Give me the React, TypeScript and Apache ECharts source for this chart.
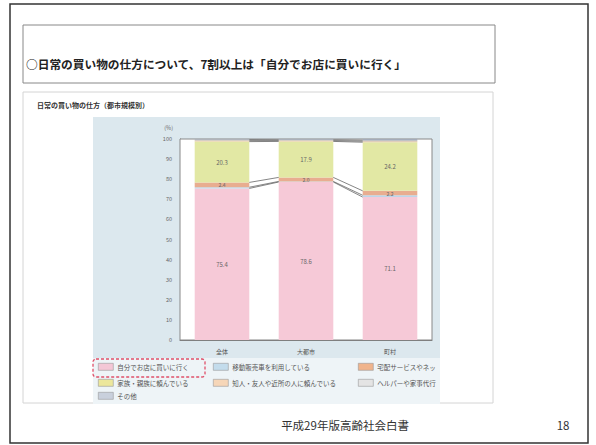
import React, { useEffect, useRef } from "react";
import * as echarts from "echarts";

const categories = ["全体", "大都市", "町村"];
const seriesNames = [
  "自分でお店に買いに行く",
  "移動販売車を利用している",
  "宅配サービスやネット販売を利用",
  "家族・親族に頼んでいる",
  "知人・友人や近所の人に頼んでいる",
  "ヘルパーや家事代行に頼んでいる",
  "その他",
];
const selfStore = [75.4, 78.6, 71.1];
const mobileSales = [0.6, 0.3, 0.9];
const delivery = [2.4, 2.0, 2.2];
const family = [20.3, 17.9, 24.2];
const friends = [0.5, 0.4, 0.5];
const helper = [0.5, 0.4, 0.5];
const other = [0.3, 0.4, 0.6];
const yTicks = [0, 10, 20, 30, 40, 50, 60, 70, 80, 90, 100];

const seriesValues = [selfStore, mobileSales, delivery, family, friends, helper, other];
const barColors = ["#f6c9d7", "#bcd6ea", "#e8ad90", "#e2e8a4", "#e9c9a6", "#b8b8b8", "#a3abb9"];
const legendColors = ["#f4c7d6", "#c3dcec", "#f0b48c", "#ece79c", "#f6d6b8", "#e4e4e4", "#c9d0dc"];

const FONT = "'Noto Sans CJK JP', 'Noto Sans', sans-serif";

export default function App() {
  const ref = useRef<HTMLDivElement>(null);
  useEffect(() => {
    document.body.style.margin = "0";
    const chart = echarts.init(ref.current!, undefined, { renderer: "svg" });

    const cum: number[][] = categories.map((_, ci) => {
      let s = 0;
      return seriesValues.map((arr) => (s += arr[ci]));
    });

    const labelShow = [true, false, true, true, false, false, false];
    const labelSize = [6, 5, 5, 6, 5, 5, 5];

    const barSeries = seriesNames.map((name, si) => ({
      name,
      type: "bar",
      stack: "total",
      barWidth: "65%",
      data: seriesValues[si],
      itemStyle: { color: barColors[si] },
      label: {
        show: labelShow[si],
        position: "inside",
        fontSize: labelSize[si],
        color: "#666",
        fontFamily: FONT,
        formatter: (p: any) => Number(p.value).toFixed(1),
      },
      emphasis: { disabled: true },
      z: 3,
    }));

    const legendPos = [
      [98, 363],
      [213, 363],
      [358, 363],
      [98, 379],
      [213, 379],
      [358, 379],
      [98, 392],
    ];

    const legends = seriesNames.map((name, i) => ({
      data: [
        {
          name,
          itemStyle: { color: legendColors[i], borderColor: "#999", borderWidth: 0.6 },
        },
      ],
      left: legendPos[i][0],
      top: legendPos[i][1],
      itemWidth: 15,
      itemHeight: 7,
      itemGap: 4,
      padding: 0,
      selectedMode: false,
      icon: "rect",
      textStyle: {
        fontSize: 6.5,
        color: "#555",
        fontFamily: FONT,
        padding: [0, 0, 0, -1],
        width: i === 2 || i === 5 ? 62 : 200,
        overflow: "truncate",
        ellipsis: "",
      },
    }));

    const option: any = {
      animation: false,
      textStyle: { fontFamily: FONT },
      grid: {
        left: 180,
        right: 164,
        top: 139,
        bottom: 105,
        show: true,
        backgroundColor: "#ffffff",
        borderColor: "#888",
        borderWidth: 1,
        z: 1,
      },
      legend: legends,
      xAxis: {
        type: "category",
        data: categories,
        axisLine: { show: true, lineStyle: { color: "#777" } },
        axisTick: { show: false },
        axisLabel: { fontSize: 6, color: "#555", margin: 8, fontFamily: FONT },
      },
      yAxis: {
        type: "value",
        min: 0,
        max: 100,
        interval: 10,
        axisLine: { show: true, lineStyle: { color: "#777" } },
        axisTick: { show: false },
        splitLine: { show: true, lineStyle: { color: "#999", width: 1 } },
        axisLabel: {
          fontSize: 5.5,
          color: "#666",
          margin: 8,
          fontFamily: FONT,
          formatter: (v: number) => (yTicks.includes(v) ? String(v) : ""),
        },
      },
      graphic: [
        {
          type: "rect",
          z: -10,
          shape: { x: 10, y: 4, width: 578, height: 439 },
          style: { fill: "#ffffff", stroke: "#333", lineWidth: 1.5 },
        },
        {
          type: "rect",
          z: -9,
          shape: { x: 23, y: 92, width: 470, height: 311 },
          style: { fill: "none", stroke: "#d4d4d4", lineWidth: 1 },
        },
        {
          type: "rect",
          z: -8,
          shape: { x: 23, y: 25, width: 472, height: 58 },
          style: { fill: "#ffffff", stroke: "#888", lineWidth: 1 },
        },
        {
          type: "text",
          x: 26,
          y: 63,
          style: {
            text: "○日常の買い物の仕方について、7割以上は「自分でお店に買いに行く」",
            fontSize: 11.7,
            fontWeight: "bold",
            fill: "#222",
            fontFamily: FONT,
            textVerticalAlign: "middle",
          },
        },
        {
          type: "text",
          x: 37,
          y: 105,
          style: {
            text: "日常の買い物の仕方（都市規模別）",
            fontSize: 7,
            fontWeight: "bold",
            fill: "#333",
            fontFamily: FONT,
            textVerticalAlign: "middle",
          },
        },
        {
          type: "rect",
          z: -7,
          shape: { x: 93, y: 117, width: 347, height: 241 },
          style: { fill: "#dce8ee" },
        },
        {
          type: "rect",
          z: -7,
          shape: { x: 93, y: 358, width: 347, height: 46 },
          style: { fill: "#eef4f7" },
        },
        {
          type: "text",
          x: 173,
          y: 128,
          style: {
            text: "(%)",
            fontSize: 5.5,
            fill: "#666",
            fontFamily: FONT,
            textAlign: "right",
            textVerticalAlign: "middle",
          },
        },
        {
          type: "rect",
          z: 10,
          shape: { x: 93, y: 359, width: 112, height: 18, r: 3 },
          style: { fill: "none", stroke: "#e0506a", lineWidth: 1.3, lineDash: [3, 2] },
        },
        {
          type: "text",
          x: 345,
          y: 425,
          style: {
            text: "平成29年版高齢社会白書",
            fontSize: 11.5,
            fill: "#333",
            fontFamily: FONT,
            textAlign: "center",
            textVerticalAlign: "middle",
          },
        },
        {
          type: "text",
          x: 563,
          y: 425,
          style: {
            text: "18",
            fontSize: 11.5,
            fill: "#333",
            fontFamily: FONT,
            textAlign: "center",
            textVerticalAlign: "middle",
          },
        },
      ],
      series: [
        ...barSeries,
        {
          type: "custom",
          name: "seriesLines",
          coordinateSystem: "cartesian2d",
          silent: true,
          z: 4,
          encode: { x: 0, y: 1 },
          data: [
            [0, 0],
            [1, 0],
          ],
          renderItem: (params: any, api: any) => {
            const i = api.value(0);
            const hw = (api.size([1, 0])[0] * 0.65) / 2;
            const children: any[] = [];
            for (let k = 0; k < seriesValues.length - 1; k++) {
              const p1 = api.coord([i, cum[i][k]]);
              const p2 = api.coord([i + 1, cum[i + 1][k]]);
              children.push({
                type: "line",
                shape: { x1: p1[0] + hw, y1: p1[1], x2: p2[0] - hw, y2: p2[1] },
                style: { stroke: "#666", lineWidth: 0.8 },
              });
            }
            return { type: "group", children };
          },
        },
      ],
    };

    chart.setOption(option);
    return () => chart.dispose();
  }, []);

  return <div ref={ref} style={{ width: 596, height: 445 }} />;
}
